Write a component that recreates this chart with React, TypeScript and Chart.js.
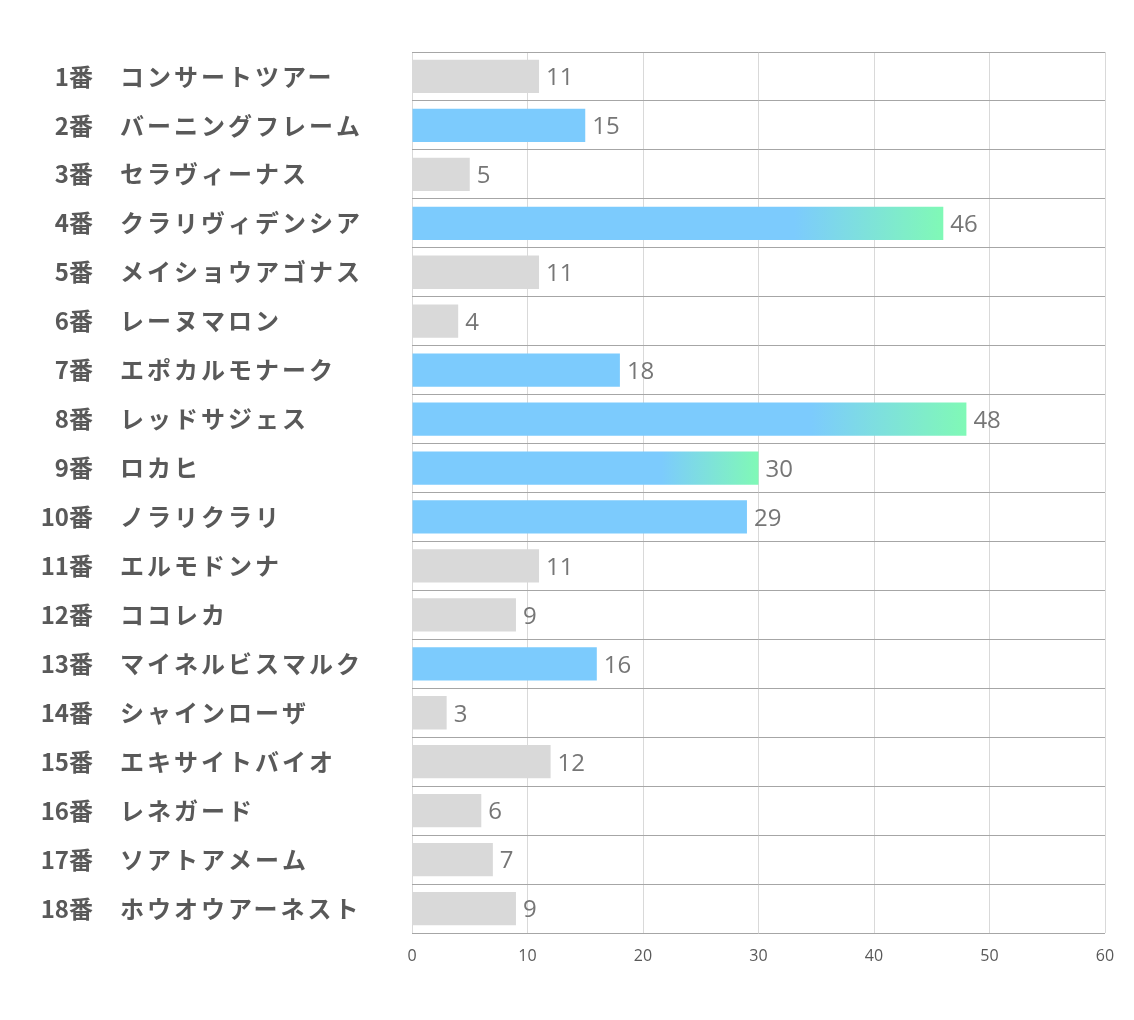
import React, { useEffect, useRef } from "react";
import { Chart, registerables } from "chart.js";

Chart.register(...registerables);

const numbers = ["1番","2番","3番","4番","5番","6番","7番","8番","9番","10番","11番","12番","13番","14番","15番","16番","17番","18番"];
const names = ["コンサートツアー","バーニングフレーム","セラヴィーナス","クラリヴィデンシア","メイショウアゴナス","レーヌマロン","エポカルモナーク","レッドサジェス","ロカヒ","ノラリクラリ","エルモドンナ","ココレカ","マイネルビスマルク","シャインローザ","エキサイトバイオ","レネガード","ソアトアメーム","ホウオウアーネスト"];
const values = [11,15,5,46,11,4,18,48,30,29,11,9,16,3,12,6,7,9];
// 0 = gray, 1 = blue, 2 = blue→green gradient
const kinds = [0,1,0,2,0,0,1,2,2,1,0,0,1,0,0,0,0,0];
const xTicks = [0,10,20,30,40,50,60];

const GRAY = "#d9d9d9";
const BLUE = "#7ccbfd";
const GREEN = "#80f9b6";

export default function App() {
  const ref = useRef<HTMLCanvasElement>(null);
  useEffect(() => {
    const canvas = ref.current!;
    const labelPlugin = {
      id: "labels",
      afterDatasetsDraw(chart: any) {
        const ctx = chart.ctx;
        const yScale = chart.scales.y;
        const meta = chart.getDatasetMeta(0);
        ctx.save();
        ctx.textBaseline = "middle";
        numbers.forEach((n, i) => {
          const y = yScale.getPixelForValue(i);
          ctx.fillStyle = "#595959";
          ctx.font = "bold 24px 'Noto Sans CJK JP'";
          (ctx as any).letterSpacing = "0px";
          ctx.textAlign = "right";
          ctx.fillText(n, 93, y);
          ctx.textAlign = "left";
          (ctx as any).letterSpacing = "3px";
          ctx.fillText(names[i], 120, y);
          (ctx as any).letterSpacing = "0px";
          const bar = meta.data[i];
          ctx.font = "24px 'Open Sans'";
          ctx.fillStyle = "#767676";
          ctx.fillText(String(values[i]), bar.x + 7, y + 2);
        });
        ctx.restore();
      },
    };
    const colorFor = (c: any) => {
      const i = c.dataIndex;
      const k = kinds[i];
      if (k === 0) return GRAY;
      if (k === 1) return BLUE;
      const chart = c.chart;
      const area = chart.chartArea;
      if (!area) return BLUE;
      const xs = chart.scales.x;
      const x0 = xs.getPixelForValue(0);
      const x1 = xs.getPixelForValue(values[i]);
      const g = chart.ctx.createLinearGradient(x0, 0, x1, 0);
      g.addColorStop(0, BLUE);
      g.addColorStop(0.72, BLUE);
      g.addColorStop(1, GREEN);
      return g;
    };
    const chart = new Chart(canvas, {
      type: "bar",
      data: {
        labels: numbers,
        datasets: [
          {
            data: values,
            backgroundColor: colorFor as any,
            categoryPercentage: 0.68,
            barPercentage: 1,
          },
        ],
      },
      options: {
        indexAxis: "y",
        animation: false,
        responsive: false,
        layout: { padding: { top: 52, right: 29, bottom: 37, left: 0 } },
        plugins: { legend: { display: false }, tooltip: { enabled: false } },
        scales: {
          x: {
            min: 0,
            max: 60,
            afterBuildTicks: (s: any) => {
              s.ticks = xTicks.map((v) => ({ value: v }));
            },
            afterFit: (s: any) => {
              s.height = 50;
            },
            grid: { color: "#d9d9d9", drawTicks: false, lineWidth: 1 },
            border: { display: false },
            ticks: {
              color: "#595959",
              font: { family: "Open Sans", size: 16 },
              padding: 14,
            },
          },
          y: {
            afterFit: (s: any) => {
              s.width = 412;
            },
            grid: { offset: true, color: "#a6a6a6", drawTicks: false, lineWidth: 1 },
            border: { display: false },
            ticks: { display: false },
          },
        },
      },
      plugins: [labelPlugin],
    });
    return () => chart.destroy();
  }, []);
  return (
    <div style={{ position: "fixed", left: 0, top: 0, width: 1134, height: 1020, background: "#fff" }}>
      <canvas ref={ref} width={1134} height={1020} style={{ display: "block" }} />
    </div>
  );
}
